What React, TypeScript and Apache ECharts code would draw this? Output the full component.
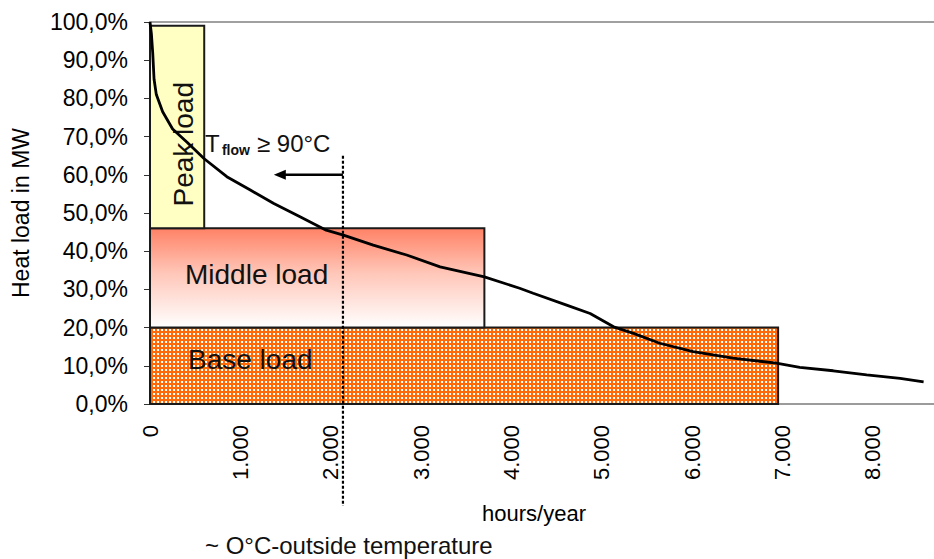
import React, { useEffect, useRef } from 'react';
import * as echarts from 'echarts';

// ---- data ----
const loadNames = ['Base load', 'Middle load', 'Peak load'];
const loadHoursFrom = [0, 0, 0];
const loadHoursTo = [6950, 3700, 600];
const loadShareFrom = [0, 20, 46];
const loadShareTo = [20, 46, 99];

const curveHours = [0, 15, 30, 45, 70, 140, 250, 410, 600, 850, 1110, 1370, 1660, 1950, 2140, 2470, 2840, 3210, 3700, 4090, 4240, 4610, 4870, 5130, 5350, 5640, 6010, 6450, 6930, 7190, 7560, 7930, 8300, 8560];
const curveLoad = [100, 97, 92, 85, 81, 76.5, 72, 68.5, 64.2, 59.5, 56, 52.5, 49, 45.5, 44.2, 41.6, 39, 35.9, 33.3, 30.3, 29, 25.9, 23.7, 20.2, 18.5, 15.9, 13.7, 12, 10.7, 9.6, 8.7, 7.6, 6.7, 5.8];

const thresholdHours = 2135; // ~0°C outside temperature
const thresholdTop = 65;
const arrowToHours = 1370;
const arrowLoad = 60;

const xMax = 8675;
const yMax = 100;
const xTickStep = 1000;
const yTickStep = 10;

const FONT = 'Liberation Sans, Arial, sans-serif';

function dotPattern(bg: string, dot: string) {
  const c = document.createElement('canvas');
  c.width = 4;
  c.height = 4;
  const ctx = c.getContext('2d')!;
  ctx.fillStyle = bg;
  ctx.fillRect(0, 0, 4, 4);
  ctx.fillStyle = dot;
  ctx.fillRect(1, 1, 2, 2);
  return c;
}

export default function App() {
  const ref = useRef<HTMLDivElement>(null);
  useEffect(() => {
    document.body.style.margin = '0';
    const chart = echarts.init(ref.current!, undefined, { renderer: 'svg' });
    const baseFill: any = { image: dotPattern('#ff6a08', '#ffffff'), repeat: 'repeat' };
    const middleFill: any = {
      type: 'linear', x: 0, y: 0, x2: 0, y2: 1,
      colorStops: [
        { offset: 0, color: '#ff8266' },
        { offset: 0.45, color: '#ffc6b8' },
        { offset: 1, color: '#ffffff' },
      ],
    };
    const peakFill = '#ffffc4';

    const rectData = loadNames.map((_, i) => [loadHoursFrom[i], loadHoursTo[i], loadShareFrom[i], loadShareTo[i]]);
    const curveData = curveHours.map((h, i) => [h, curveLoad[i]]);

    chart.setOption({
      animation: false,
      grid: { left: 150, top: 22, right: 0, bottom: 155 },
      xAxis: [
        {
          type: 'value', min: 0, max: xMax, interval: xTickStep,
          name: 'hours/year', nameLocation: 'middle', nameGap: 98,
          nameTextStyle: { fontSize: 22, color: '#000', fontFamily: FONT, padding: [0, 16, 0, 0] },
          axisLine: { show: true, lineStyle: { color: '#7a7a7a', width: 1.5 } },
          axisTick: { show: false },
          splitLine: { show: false },
          axisLabel: {
            rotate: 90, margin: 21, fontSize: 22, color: '#000', fontFamily: FONT,
            formatter: (v: number) => (v % 1000 !== 0 ? '' : v === 0 ? '0' : `${v / 1000}.000`),
          },
        },
        {
          type: 'value', position: 'top', min: 0, max: xMax,
          axisLine: { show: true, onZero: false, lineStyle: { color: '#a0a0a0', width: 2 } },
          axisTick: { show: false }, axisLabel: { show: false }, splitLine: { show: false },
        },
      ],
      yAxis: {
        type: 'value', min: 0, max: yMax, interval: yTickStep,
        name: 'Heat load in MW', nameLocation: 'middle', nameGap: 118,
        nameTextStyle: { fontSize: 23, color: '#000', fontFamily: FONT },
        axisLine: { show: true, lineStyle: { color: '#333', width: 1.5 } },
        axisTick: { show: true, length: 6, lineStyle: { color: '#333' } },
        splitLine: { show: false },
        axisLabel: {
          margin: 22, fontSize: 23, color: '#000', fontFamily: FONT,
          formatter: (v: number) => `${v.toFixed(1).replace('.', ',')}%`,
        },
      },
      series: [
        {
          type: 'custom',
          data: rectData,
          encode: { x: [0, 1], y: [2, 3] },
          renderItem: (params: any, api: any) => {
            const i = params.dataIndex;
            const p0 = api.coord([api.value(0), api.value(3)]);
            const p1 = api.coord([api.value(1), api.value(2)]);
            const w = p1[0] - p0[0];
            const h = p1[1] - p0[1];
            const fill = i === 0 ? baseFill : i === 1 ? middleFill : peakFill;
            let label: any;
            if (i === 2) {
              label = {
                type: 'text', x: (p0[0] + p1[0]) / 2 + 6, y: p1[1] - 84, rotation: Math.PI / 2,
                style: { text: loadNames[i], fontSize: 28, fontFamily: FONT, fill: '#111', align: 'center', verticalAlign: 'middle' },
              };
            } else {
              label = {
                type: 'text', x: p0[0] + (i === 0 ? 38 : 35), y: (p0[1] + p1[1]) / 2 + (i === 0 ? -6 : -3),
                style: { text: loadNames[i], fontSize: 28, fontFamily: FONT, fill: '#111', align: 'left', verticalAlign: 'middle' },
              };
            }
            return {
              type: 'group',
              children: [
                { type: 'rect', shape: { x: p0[0], y: p0[1], width: w, height: h }, style: { fill, stroke: '#1a1a1a', lineWidth: 2 } },
                label,
              ],
            };
          },
          z: 1,
        },
        {
          type: 'line',
          data: curveData,
          showSymbol: false,
          symbol: 'none',
          lineStyle: { color: '#000', width: 2.8 },
          z: 3,
        },
        {
          type: 'custom',
          clip: false,
          data: [[thresholdHours, thresholdTop, arrowToHours, arrowLoad]],
          encode: { x: [0, 2], y: [1, 3] },
          renderItem: (_params: any, api: any) => {
            const top = api.coord([api.value(0), api.value(1)]);
            const base = api.coord([api.value(0), 0]);
            const a0 = api.coord([api.value(0), api.value(3)]);
            const a1 = api.coord([api.value(2), api.value(3)]);
            const tx = top[0] - 138;
            return {
              type: 'group',
              children: [
                { type: 'line', shape: { x1: top[0], y1: top[1], x2: top[0], y2: base[1] + 102 }, style: { stroke: '#000', lineWidth: 2.2, lineDash: [3, 2] } },
                { type: 'line', shape: { x1: a0[0], y1: a0[1], x2: a1[0] + 8, y2: a1[1] }, style: { stroke: '#000', lineWidth: 2.5 } },
                { type: 'polygon', shape: { points: [[a1[0], a1[1]], [a1[0] + 12, a1[1] - 5], [a1[0] + 12, a1[1] + 5]] }, style: { fill: '#000' } },
                { type: 'text', x: tx, y: top[1] - 12, style: { text: 'T', fontSize: 24, fontFamily: FONT, fill: '#111', align: 'left', verticalAlign: 'middle' } },
                { type: 'text', x: tx + 17, y: top[1] - 6, style: { text: 'flow', fontSize: 14, fontWeight: 'bold', fontFamily: FONT, fill: '#111', align: 'left', verticalAlign: 'middle' } },
                { type: 'text', x: tx + 52, y: top[1] - 12, style: { text: '≥ 90°C', fontSize: 24, fontFamily: FONT, fill: '#111', align: 'left', verticalAlign: 'middle' } },
                { type: 'text', x: tx, y: base[1] + 141, style: { text: '~ O°C-outside temperature', fontSize: 24, fontFamily: FONT, fill: '#111', align: 'left', verticalAlign: 'middle' } },
              ],
            };
          },
          z: 4,
        },
      ],
    });
    return () => chart.dispose();
  }, []);
  return <div ref={ref} style={{ width: 934, height: 559 }} />;
}
